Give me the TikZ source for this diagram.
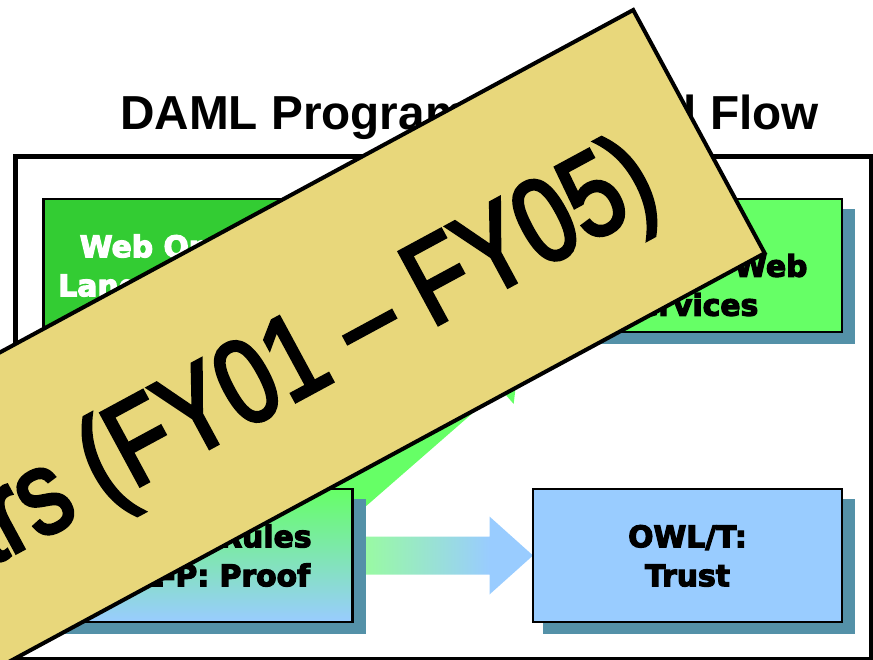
\documentclass[tikz,border=0pt]{standalone}
\usepackage{fontspec}
\usetikzlibrary{calc}
\setmainfont{Liberation Sans}
\newfontfamily\arialfont{Liberation Sans}
\newfontfamily\boxfont{DejaVu Sans}[BoldFeatures={FakeBold=4}]
\newfontfamily\bannerfont{Liberation Sans}[FakeStretch=0.807, FakeBold=2.8]
\definecolor{owlgreen}{HTML}{33CC33}
\definecolor{wsgreen}{HTML}{66FF66}
\definecolor{trustblue}{HTML}{99CCFF}
\definecolor{shadowcol}{HTML}{5491A8}
\definecolor{arrowgreen}{HTML}{99FF99}
\definecolor{arrowblue}{HTML}{99CCFF}
\definecolor{bannercol}{HTML}{E8D77B}
\pgfdeclarehorizontalshading{flowshade}{100bp}{color(0bp)=(arrowgreen); color(25bp)=(arrowgreen); color(63bp)=(arrowblue); color(100bp)=(arrowblue)}
\pgfdeclarelayer{arrowlayer}
\pgfdeclarelayer{shadowlayer}
\pgfsetlayers{arrowlayer,shadowlayer,main}
\newcommand\bxtop{\rule{0pt}{32pt}}
\newcommand\bxbot{\rule[-9.6pt]{0pt}{9.6pt}}
\tikzset{
  box/.style={draw=black, line width=2.5pt, minimum width=309pt, minimum height=133pt,
    inner sep=0pt, outer sep=0pt, align=center,
    font=\boxfont\bfseries\fontsize{29.8}{39}\selectfont},
  boxshadow/.style={fill=shadowcol},
  titletext/.style={anchor=base west, inner sep=0pt, font=\arialfont\bfseries\fontsize{47.7}{57}\selectfont},
  bannertext/.style={anchor=base east, inner sep=0pt, outer sep=0pt, rotate=28.4,
    font=\bannerfont\fontsize{120}{144}\selectfont},
}
\begin{document}
\begin{tikzpicture}[x=1pt,y=-1pt]
\useasboundingbox (0,0) rectangle (873,660);
\clip (0,0) rectangle (873,660);
% frame and title
\draw[line width=5pt] (15.5,156.5) rectangle (871,659);
\node[titletext] (title) at (120.1,130) {DAML Program Technical Flow};
% boxes
\node[box, fill=owlgreen, text=white] (owl) at (198,265.5) {\bxtop Web Ontology\\Language (OWL)\bxbot};
\node[box, fill=wsgreen] (ws) at (687.5,265.5) {\bxtop OWL-S:\\Semantic Web\\Services\bxbot};
\node[box, top color=wsgreen, bottom color=trustblue] (rules) at (198,555.5) {\bxtop OWL-R: Rules\\OWL-P: Proof\bxbot};
\node[box, fill=trustblue] (trust) at (687.5,555.5) {\bxtop OWL/T:\\Trust\bxbot};
% shadows
\begin{pgfonlayer}{shadowlayer}
\foreach \b in {owl,ws,rules,trust}
  \fill[boxshadow] ($(\b.north west)+(10,10)$) rectangle ($(\b.south east)+(13,12)$);
\end{pgfonlayer}
% arrows
\begin{pgfonlayer}{arrowlayer}
\coordinate (gs) at (322.7,519.4);
\fill[wsgreen, shift={(gs)}, rotate=41.1]
  (0,-18.5) -- (219.8,-18.5) -- (219.8,-38.5) -- (262.8,0) -- (219.8,38.5) -- (219.8,18.5) -- (0,18.5) -- cycle;
\shade[shading=flowshade, shift={(rules.east)}]
  (0,-19) -- (137,-19) -- (137,-39) -- (180.5,0) -- (137,39) -- (137,19) -- (0,19) -- cycle;
\end{pgfonlayer}
% banner
\coordinate (bT) at (633.2,10);
\coordinate (bR) at (764.7,253.2);
\coordinate (bRL) at (-114.9,728.8);
\coordinate (bTL) at (-246.4,485.6);
\filldraw[fill=bannercol, draw=black, line width=4pt, line join=miter] (bTL) -- (bT) -- (bR) -- (bRL) -- cycle;
\node[bannertext] (bantext) at (663.6,202.8) {Out Years (FY01 – FY05)};
\end{tikzpicture}
\end{document}
